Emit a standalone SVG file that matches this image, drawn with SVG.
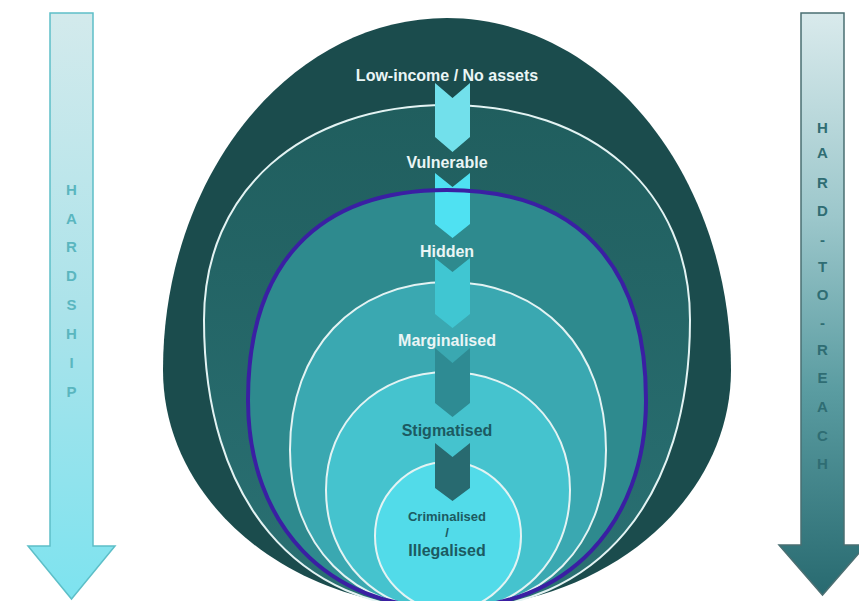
<svg xmlns="http://www.w3.org/2000/svg" width="859" height="601" viewBox="0 0 859 601">
  <defs>
    <linearGradient id="gradHardship" x1="0" y1="0" x2="0" y2="1">
      <stop offset="0" stop-color="#d3eaec"/>
      <stop offset="0.5" stop-color="#ace3ea"/>
      <stop offset="1" stop-color="#7de3ef"/>
    </linearGradient>
    <linearGradient id="gradReach" x1="0" y1="0" x2="0" y2="1">
      <stop offset="0" stop-color="#d9eaec"/>
      <stop offset="0.35" stop-color="#9cc7cb"/>
      <stop offset="0.65" stop-color="#5a9ca1"/>
      <stop offset="1" stop-color="#286a70"/>
    </linearGradient>
    <linearGradient id="gradVuln" x1="0" y1="0" x2="0" y2="1">
      <stop offset="0" stop-color="#205e5e"/>
      <stop offset="1" stop-color="#2a7174"/>
    </linearGradient>
    <style>
      .ring { stroke: #e3f3f3; stroke-width: 2; }
      .lbl { font-family: "Liberation Sans", Arial, sans-serif; font-weight: bold; text-anchor: middle; }
      .light { fill: #eaf5f5; }
      .dark { fill: #1c5a61; }
      .side { font-family: "Liberation Sans", Arial, sans-serif; font-weight: bold; font-size: 15px; text-anchor: middle; }
    </style>
  </defs>

  <rect width="859" height="601" fill="#ffffff"/>

  <!-- side arrows -->
  <g id="arrow-hardship">
    <path d="M50,13 H93 V546 H115 L71.5,599 L28,546 H50 Z" fill="url(#gradHardship)" stroke="#5dbfc8" stroke-width="1.5"/>
    <g class="side" fill="#5ab6bf">
      <text x="71.5" y="195">H</text>
      <text x="71.5" y="224">A</text>
      <text x="71.5" y="252">R</text>
      <text x="71.5" y="281">D</text>
      <text x="71.5" y="310">S</text>
      <text x="71.5" y="339">H</text>
      <text x="71.5" y="368">I</text>
      <text x="71.5" y="397">P</text>
    </g>
  </g>

  <g id="arrow-hard-to-reach">
    <path d="M801,13 H844 V545 H866 L822.5,595 L779,545 H801 Z" fill="url(#gradReach)" stroke="#4a6f72" stroke-width="1.5"/>
    <g class="side" fill="#2f6d73">
      <text x="822.5" y="133">H</text>
      <text x="822.5" y="158">A</text>
      <text x="822.5" y="188">R</text>
      <text x="822.5" y="216">D</text>
      <text x="822.5" y="245">-</text>
      <text x="822.5" y="272">T</text>
      <text x="822.5" y="300">O</text>
      <text x="822.5" y="328">-</text>
      <text x="822.5" y="355">R</text>
      <text x="822.5" y="383">E</text>
      <text x="822.5" y="412">A</text>
      <text x="822.5" y="441">C</text>
      <text x="822.5" y="469">H</text>
    </g>
  </g>

  <!-- nested zones, outermost first -->
  <g id="zone-low-income">
    <path d="M163,370 C163,175.6 290.1,18 447,18 C603.9,18 731,175.6 731,370 C731,501.4 603.9,608 447,608 C290.1,608 163,501.4 163,370 Z" fill="#1b4c4d"/>
  </g>
  <g id="zone-vulnerable">
    <path class="ring" d="M204,320 C204,191 301.2,105 447,105 C592.8,105 690,191 690,320 C690,499.8 597.7,610 447,610 C296.3,610 204,499.8 204,320 Z" fill="url(#gradVuln)"/>
  </g>
  <g id="zone-hidden">
    <path d="M248,400 C248,263.5 317.6,190 447,190 C576.4,190 646,263.5 646,400 C646,524.8 566.4,608 447,608 C327.6,608 248,524.8 248,400 Z" fill="#2e8a8e"/>
  </g>
  <g id="zone-marginalised">
    <path class="ring" d="M290,450 C290,349.2 353.2,282 448,282 C542.8,282 606,349.2 606,450 C606,546 542.8,610 448,610 C353.2,610 290,546 290,450 Z" fill="#3aa8b1"/>
  </g>
  <g id="zone-stigmatised">
    <path class="ring" d="M326,490 C326,421.6 377.2,372 448,372 C518.8,372 570,421.6 570,490 C570,560.8 518.8,612 448,612 C377.2,612 326,560.8 326,490 Z" fill="#45c3ce"/>
  </g>
  <g id="zone-criminalised">
    <ellipse class="ring" cx="448" cy="536" rx="73" ry="74" fill="#52dbe9"/>
  </g>

  <!-- step chevrons between zones -->
  <g id="connectors">
    <path d="M435,83 L452.5,98 L470,83 V137 L452.5,152 L435,137 Z" fill="#72e0eb"/>
    <path d="M435,173 L452.5,187 L470,173 V224 L452.5,238 L435,224 Z" fill="#4fe1f2"/>
    <path d="M435,258 L452.5,272 L470,258 V314 L452.5,328 L435,314 Z" fill="#40c6d2"/>
    <path d="M435,348 L452.5,363 L470,348 V403 L452.5,417 L435,403 Z" fill="#2e8b93"/>
    <path d="M435,443 L452.5,457 L470,443 V488 L452.5,501 L435,488 Z" fill="#286a70"/>
  </g>

  <!-- hard-to-reach boundary -->
  <g id="boundary">
    <path d="M248,400 C248,263.5 317.6,190 447,190 C576.4,190 646,263.5 646,400 C646,524.8 566.4,608 447,608 C327.6,608 248,524.8 248,400 Z" fill="none" stroke="#3a1fa3" stroke-width="4"/>
  </g>

  <!-- zone labels -->
  <g id="labels">
    <text class="lbl light" x="447" y="81" font-size="16">Low-income / No assets</text>
    <text class="lbl light" x="447" y="168" font-size="16">Vulnerable</text>
    <text class="lbl light" x="447" y="257" font-size="16">Hidden</text>
    <text class="lbl light" x="447" y="346" font-size="16">Marginalised</text>
    <text class="lbl dark" x="447" y="436" font-size="16">Stigmatised</text>
    <text class="lbl dark" x="447" y="521" font-size="13">Criminalised</text>
    <text class="lbl dark" x="447" y="537" font-size="13">/</text>
    <text class="lbl dark" x="447" y="556" font-size="16">Illegalised</text>
  </g>
</svg>
